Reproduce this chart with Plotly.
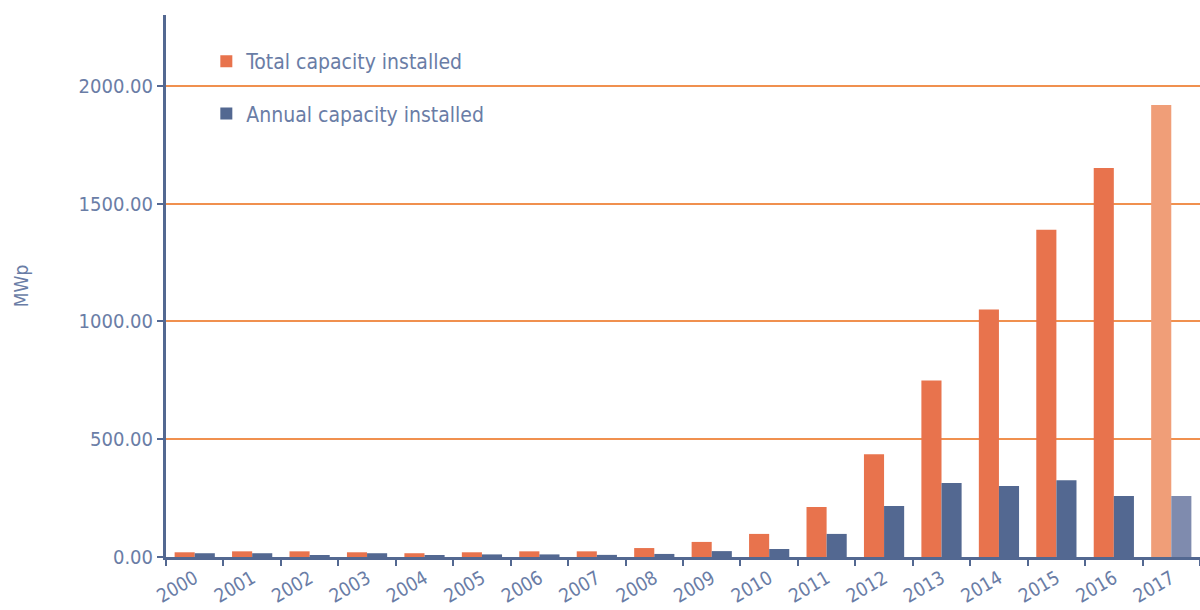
import plotly.graph_objects as go

years = [str(y) for y in range(2000, 2018)]
total_capacity = [20, 24, 24, 20, 16, 20, 24, 24, 38, 64, 98, 212, 436, 749, 1050, 1389, 1651, 1918]
annual_capacity = [16, 16, 7, 16, 7, 11, 11, 9, 13, 25, 34, 98, 216, 314, 301, 326, 259, 259]

orange = '#E8734D'
blue = '#536891'
# last year drawn lighter (estimate)
orange_cols = [orange] * 17 + ['#F09E78']
blue_cols = [blue] * 17 + ['#7F8BAE']

txt = '#6A7DA6'
font_name = 'DejaVu Sans Condensed, Lato, sans-serif'

fig = go.Figure()
fig.add_trace(go.Bar(
    x=years, y=total_capacity, name='Total capacity installed',
    marker=dict(color=orange_cols, line=dict(width=0)),
    legendgroup='a'
))
fig.add_trace(go.Bar(
    x=years, y=annual_capacity, name='Annual capacity installed',
    marker=dict(color=blue_cols, line=dict(width=0)),
    legendgroup='b'
))

fig.update_layout(
    width=1200, height=610,
    margin=dict(l=166, r=0, t=15, b=53),
    plot_bgcolor='white', paper_bgcolor='white',
    barmode='group', bargap=0.3, bargroupgap=0,
    font=dict(family=font_name, color=txt, size=19),
    legend=dict(
        x=0.039, y=0.952, xanchor='left', yanchor='top',
        font=dict(size=21, color=txt),
        tracegroupgap=22, traceorder='grouped',
        bgcolor='rgba(0,0,0,0)'
    ),
    xaxis=dict(
        type='category', tickangle=-30, automargin=False,
        showline=True, linecolor=blue, linewidth=3,
        ticks='outside', tickson='boundaries', ticklen=6, tickwidth=2, tickcolor=blue,
        tickfont=dict(size=19, color=txt),
        range=[-0.5, 17.5], showgrid=False
    ),
    yaxis=dict(
        range=[0, 2300], tickvals=[0, 500, 1000, 1500, 2000],
        tickformat='.2f', automargin=False,
        showgrid=True, gridcolor='#F0904F', gridwidth=1.5,
        zeroline=False,
        showline=True, linecolor=blue, linewidth=3,
        ticks='outside', ticklen=6, tickwidth=2, tickcolor=blue,
        tickfont=dict(size=20, color=txt),
        title=dict(text='MWp', font=dict(size=19, color=txt), standoff=45)
    )
)

fig.write_html("out.html", config={'displayModeBar': False},
               post_script="document.body.style.margin='0';document.body.style.overflow='hidden';")
